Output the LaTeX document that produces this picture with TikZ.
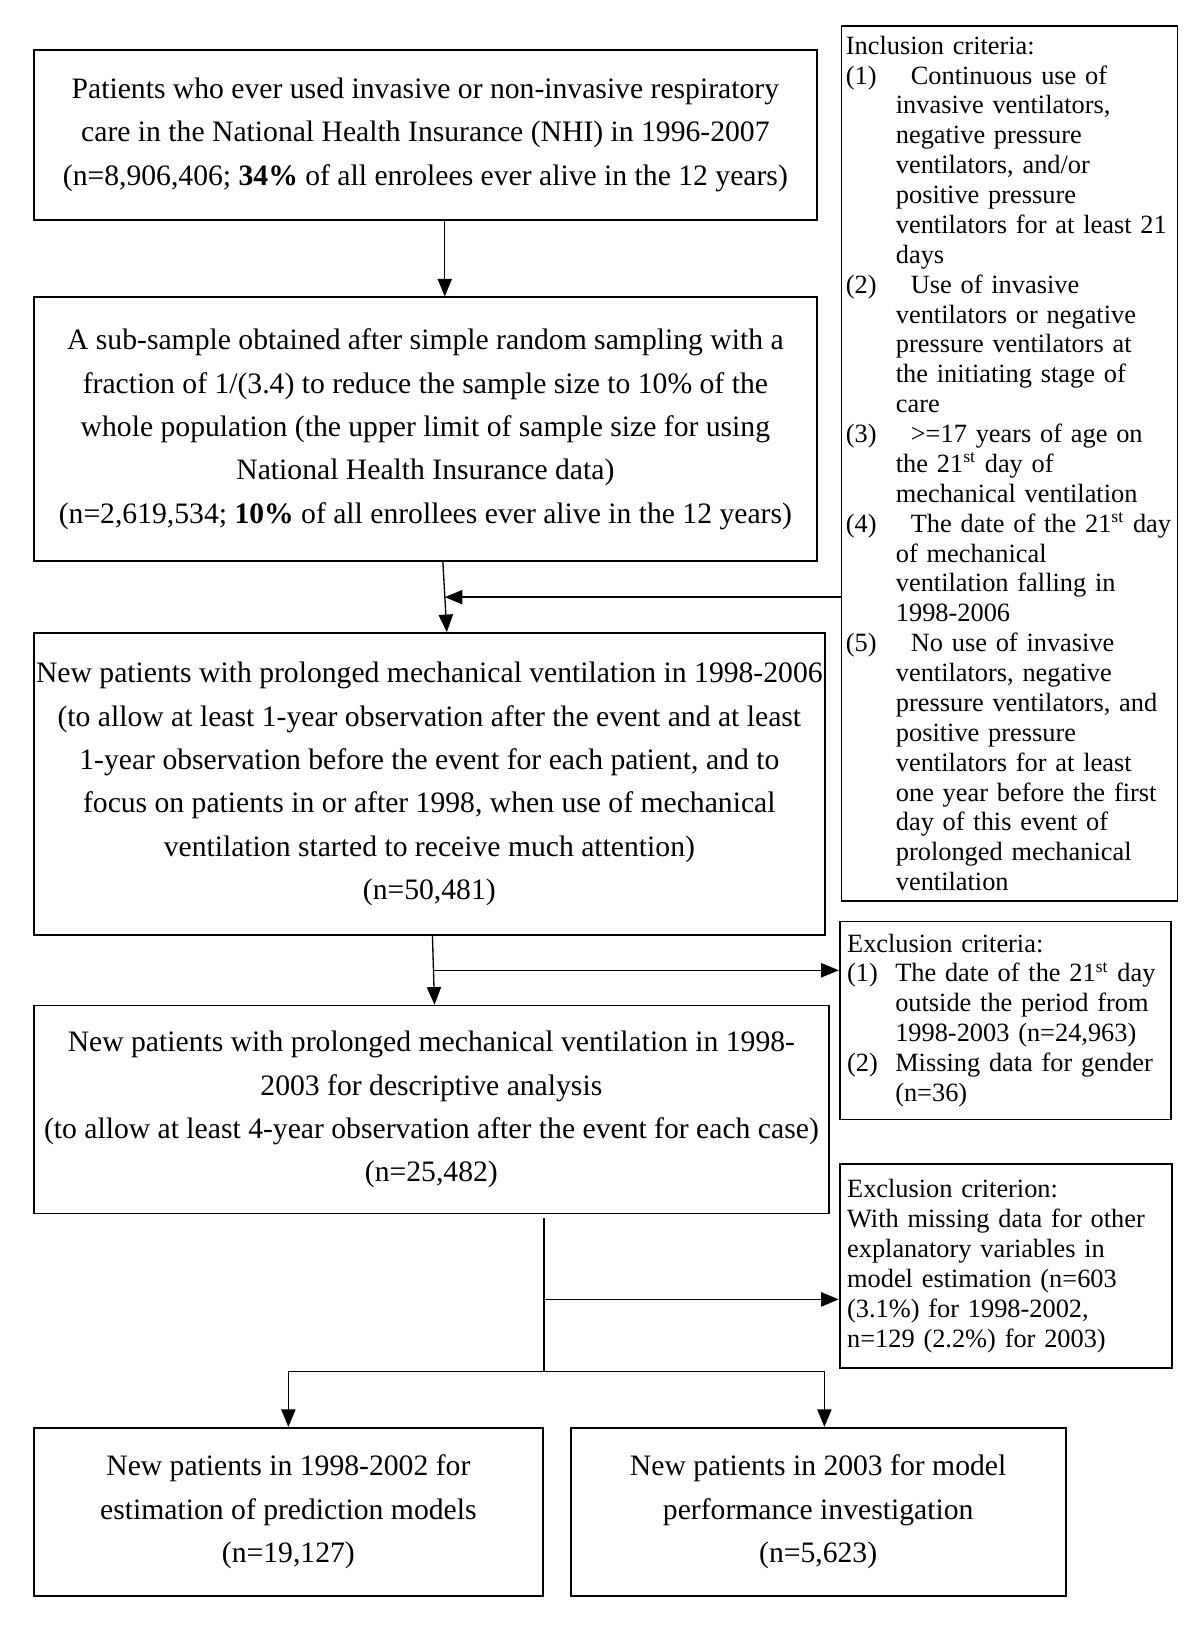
\documentclass[tikz,border=0pt]{standalone}
\usepackage{fontspec}
\setmainfont{Liberation Serif}
\usetikzlibrary{arrows.meta, positioning, calc}
\tikzset{
  mainbox/.style = {rectangle, draw=black, thick, align=center, inner xsep=1pt, font=\fontsize{13.5}{19.7}\selectfont},
  critbox/.style = {rectangle, draw=black, thick, align=left, font=\fontsize{12}{13.6}\selectfont},
  arr/.style = {-{Triangle[length=8pt,width=6.5pt]}, semithick},
  line/.style = {semithick}
}
\newcommand{\incitem}[2]{\par\hangindent=0.8cm\hangafter=1\noindent\makebox[1.04cm][l]{#1}#2\par}
\newcommand{\excitem}[2]{\par\hangindent=0.77cm\hangafter=1\noindent\makebox[0.77cm][l]{#1}#2\par}

\begin{document}
\begin{tikzpicture}
  \useasboundingbox (0,0) rectangle (19.2,-26.032);

  % Main column
  \node (all) [mainbox, minimum width=12.528cm, minimum height=2.72cm, anchor=north west] at (0.528,-0.784)
    {Patients who ever used invasive or non-invasive respiratory\\
     care in the National Health Insurance (NHI) in 1996-2007\\
     (n=8,906,406; \textbf{34\%} of all enrolees ever alive in the 12 years)};
  \node (sample) [mainbox, minimum width=12.528cm, minimum height=4.224cm, below right=1.21cm and 0cm of all.south west]
    {A sub-sample obtained after simple random sampling with a\\
     fraction of 1/(3.4) to reduce the sample size to 10\% of the\\
     whole population (the upper limit of sample size for using\\
     National Health Insurance data)\\
     (n=2,619,534; \textbf{10\%} of all enrollees ever alive in the 12 years)};
  \node (newall) [mainbox, minimum width=12.592cm, minimum height=4.832cm, below right=1.12cm and 0cm of sample.south west]
    {New patients with prolonged mechanical ventilation in 1998-2006\\
     (to allow at least 1-year observation after the event and at least\\
     1-year observation before the event for each patient, and to\\
     focus on patients in or after 1998, when use of mechanical\\
     ventilation started to receive much attention)\\
     (n=50,481)};
  \node (desc) [mainbox, minimum width=12.72cm, minimum height=3.328cm, below right=1.1cm and 0cm of newall.south west]
    {New patients with prolonged mechanical ventilation in 1998-\\
     2003 for descriptive analysis\\
     (to allow at least 4-year observation after the event for each case)\\
     (n=25,482)};

  % Bottom row
  \node (est) [mainbox, minimum width=8.144cm, minimum height=2.688cm, below right=3.4cm and 0cm of desc.south west]
    {New patients in 1998-2002 for\\
     estimation of prediction models\\
     (n=19,127)};
  \node (perf) [mainbox, minimum width=7.92cm, minimum height=2.688cm, right=0.416cm of est.north east, anchor=north west]
    {New patients in 2003 for model\\
     performance investigation\\
     (n=5,623)};

  % Criteria boxes
  \node (incl) [critbox, text width=5.236cm, inner xsep=0.07cm, minimum height=14cm, right=0.366cm of all.north east, anchor=north west, yshift=0.384cm]
    {Inclusion criteria:
     \incitem{(1)}{Continuous use of\newline invasive ventilators,\newline negative pressure\newline ventilators, and/or\newline positive pressure\newline ventilators for at least 21\newline days}
     \incitem{(2)}{Use of invasive\newline ventilators or negative\newline pressure ventilators at\newline the initiating stage of\newline care}
     \incitem{(3)}{>=17 years of age on\newline the 21\textsuperscript{st} day of\newline mechanical ventilation}
     \incitem{(4)}{The date of the 21\textsuperscript{st} day\newline of mechanical\newline ventilation falling in\newline 1998-2006}
     \incitem{(5)}{No use of invasive\newline ventilators, negative\newline pressure ventilators, and\newline positive pressure\newline ventilators for at least\newline one year before the first\newline day of this event of\newline prolonged mechanical\newline ventilation}};
  \node (excl1) [critbox, text width=5.056cm, inner xsep=0.12cm, minimum height=3.168cm, below right=0.3cm and -0.03cm of incl.south west]
    {Exclusion criteria:
     \excitem{(1)}{The date of the 21\textsuperscript{st} day\newline outside the period from\newline 1998-2003 (n=24,963)}
     \excitem{(2)}{Missing data for gender\newline (n=36)}};
  \node (excl2) [critbox, text width=5.072cm, inner xsep=0.12cm, minimum height=3.264cm, below right=0.688cm and 0cm of excl1.south west]
    {Exclusion criterion:\\
     With missing data for other\\
     explanatory variables in\\
     model estimation (n=603\\
     (3.1\%) for 1998-2002,\\
     n=129 (2.2\%) for 2003)};

  % Connecting Nodes
  \draw[arr] ([xshift=3.1mm]all.south) -- ([xshift=3.1mm]sample.north);

  \coordinate (j1) at ($(sample.south)!0.5!(newall.north)+(0.28,0)$);
  \draw[arr] ([xshift=2.8mm]sample.south) -- ([xshift=2.8mm]newall.north);
  \draw[arr] (incl.west |- j1) -- (j1);

  \coordinate (j2) at ($(newall.south)!0.5!(desc.north)+(0.05,0)$);
  \draw[arr] ([xshift=0.5mm]newall.south) -- ([xshift=0.5mm]desc.north);
  \draw[arr] (j2) -- (j2 -| excl1.west);

  \coordinate (s4) at ([xshift=1.8cm,yshift=-0.06cm]desc.south);
  \coordinate (b4) at ($(s4)+(0,-1.3)$);
  \coordinate (split) at ($(s4)+(0,-2.45)$);
  \draw[line] (s4) -- (split);
  \draw[arr] (b4) -- (b4 -| excl2.west);
  \draw[line] (split -| est.north) -- ([xshift=1mm]split -| perf.north);
  \draw[arr] (split -| est.north) -- (est.north);
  \draw[arr] ([xshift=1mm]split -| perf.north) -- ([xshift=1mm]perf.north);
\end{tikzpicture}
\end{document}
